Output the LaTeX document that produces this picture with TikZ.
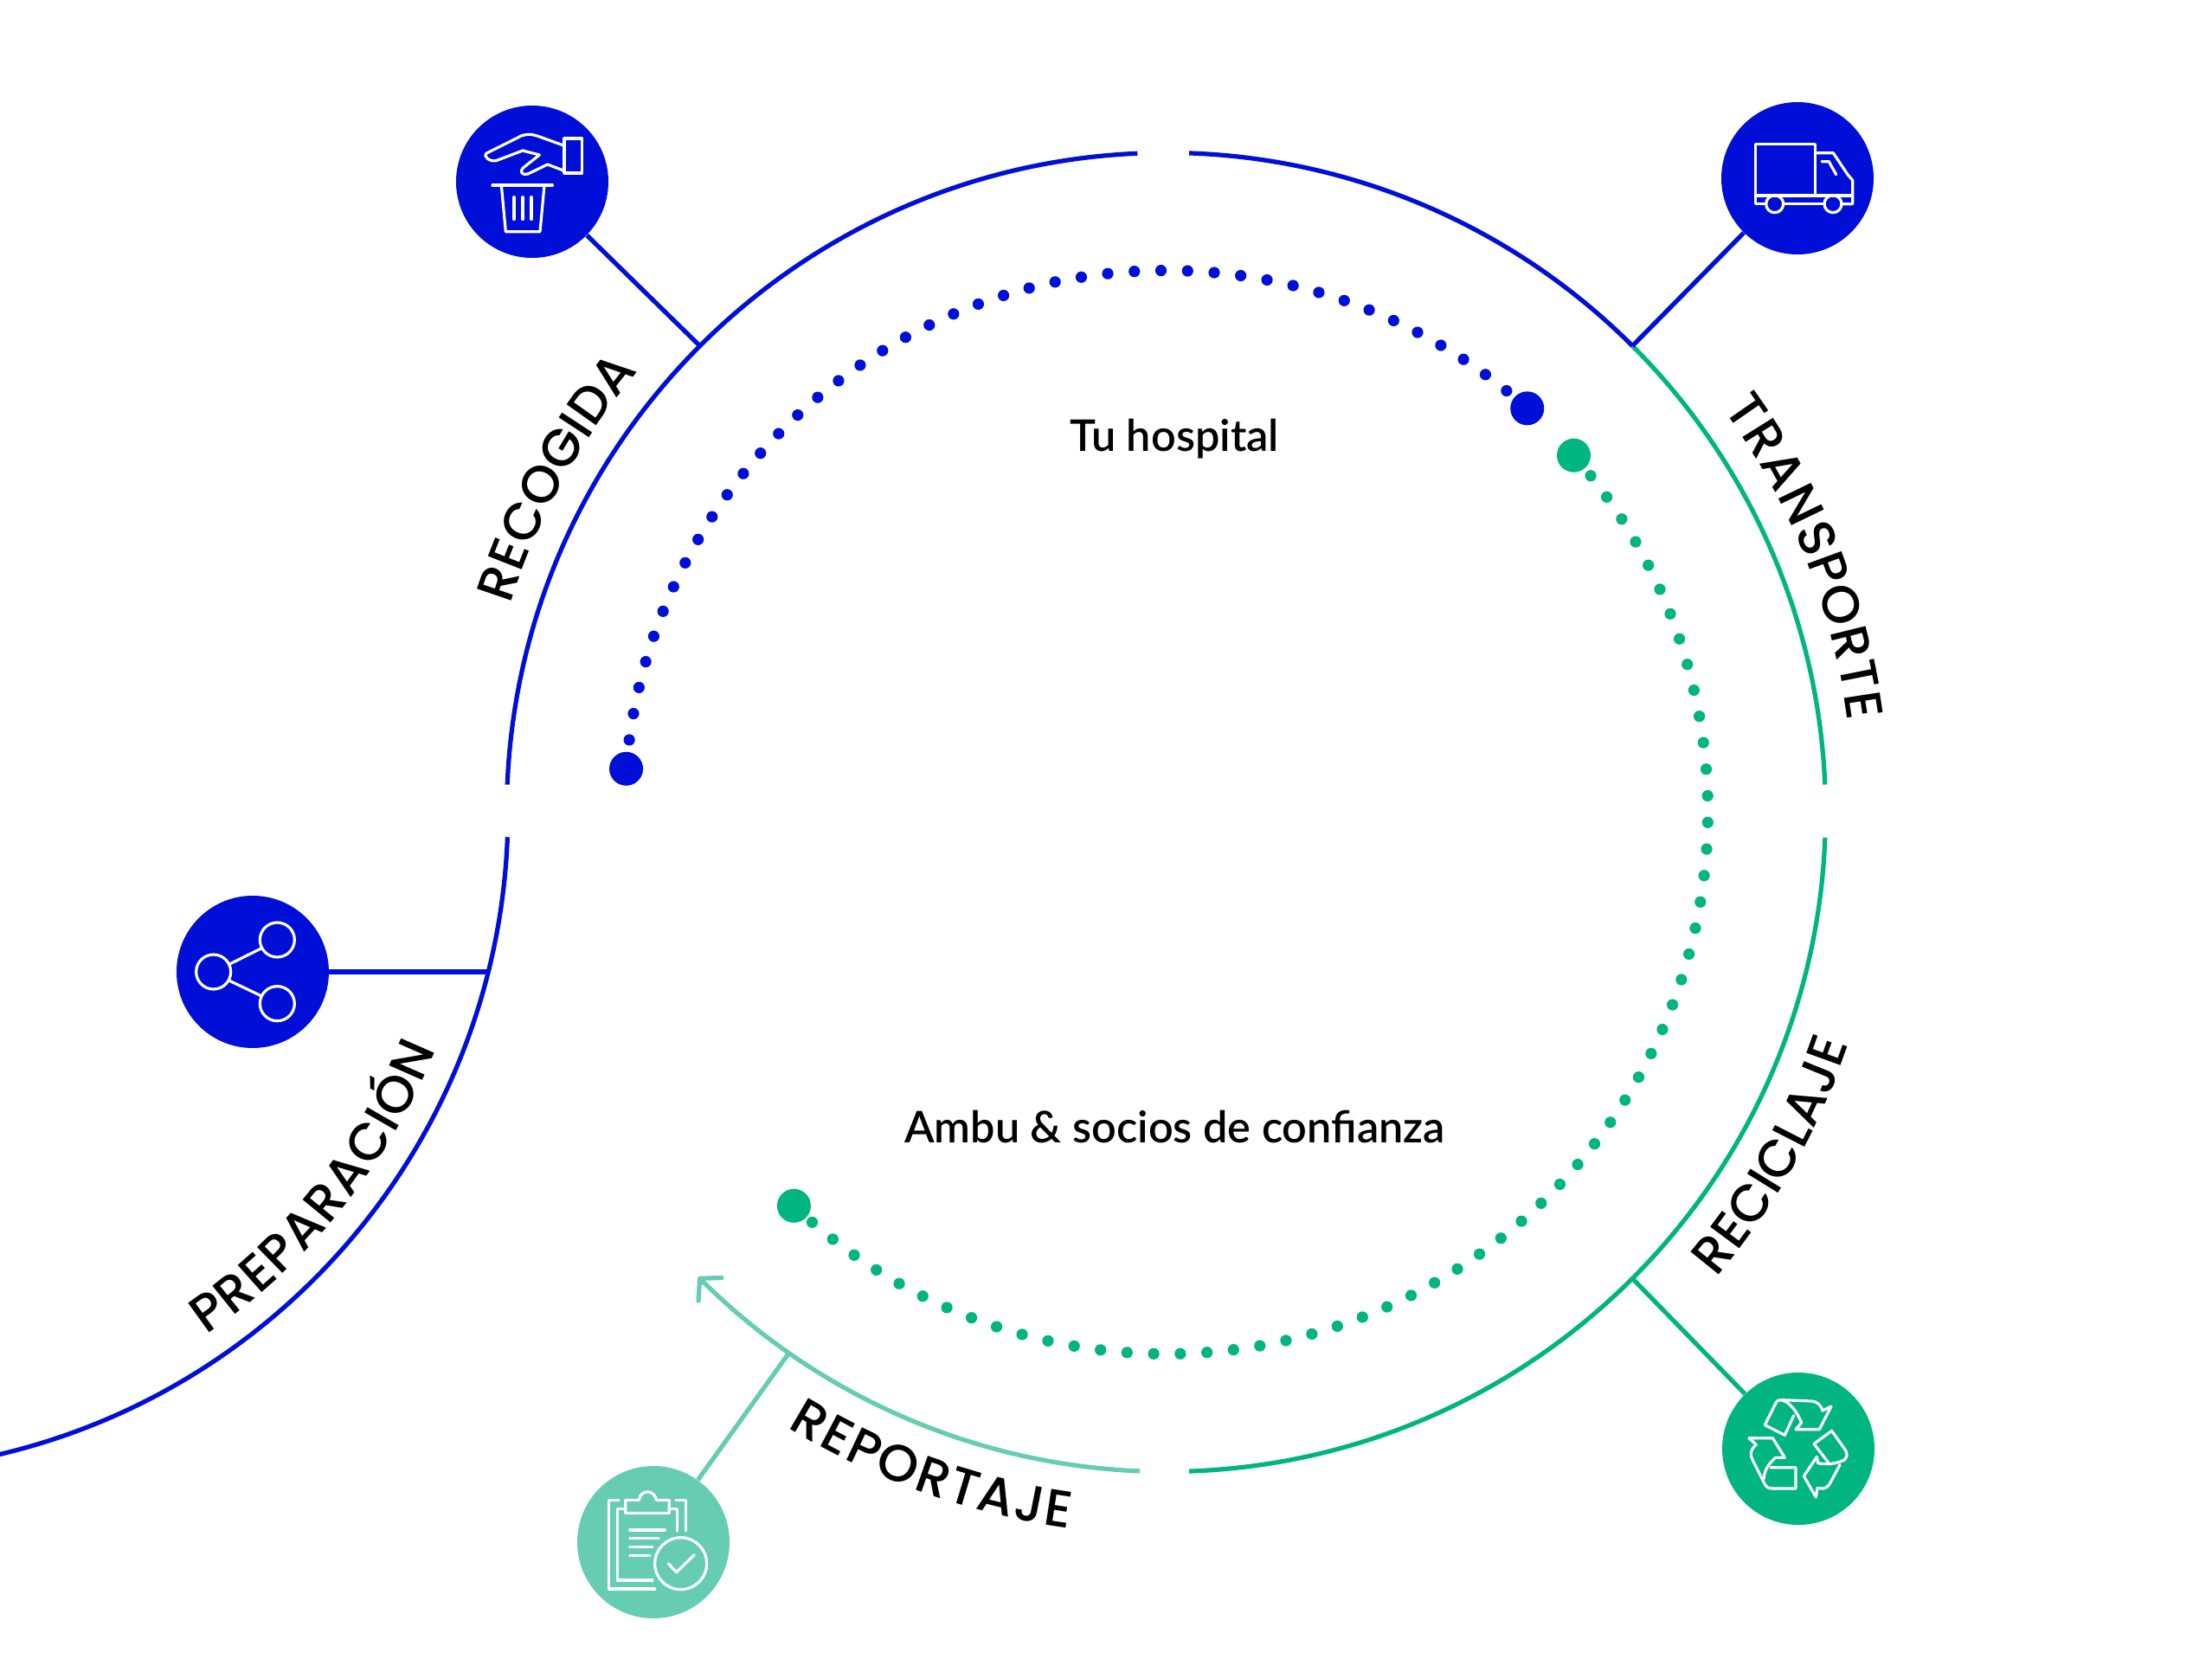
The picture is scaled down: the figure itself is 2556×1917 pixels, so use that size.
\documentclass[tikz,border=0pt]{standalone}
\usepackage{fontspec}
\usetikzlibrary{decorations.text}
\setmainfont{Lato Semibold}
\newfontfamily\lblfont{Poppins Medium}
\definecolor{ablue}{HTML}{000FD8}
\definecolor{agreen}{HTML}{00B57F}
\definecolor{alight}{HTML}{66CCB2}
\newcommand{\curvefont}{\fontsize{30}{34}\lblfont}
\tikzset{
  ring/.style={line width=2.6pt},
  ico/.style={circle,minimum size=88pt,inner sep=0pt,draw=none},
  glyph/.style={draw=white,line width=1.6pt,line join=round,line cap=round,x=0.16667pt,y=-0.16667pt},
  bigdot/.style={circle,minimum size=19.5pt,inner sep=0pt,draw=none},
  caption/.style={font=\fontsize{25.2}{29}\selectfont,anchor=base,inner sep=0pt,text=black},
  curvelabel/.style={decorate,decoration={text along path,text={|\curvefont|#1},text align={fit to path}}},
}
\begin{document}
\begin{tikzpicture}[x=0.5pt,y=0.5pt]
\useasboundingbox (0,0) rectangle (2556,-1917);
\fill[white] (0,0) rectangle (2556,-1917);
% main ring
\begin{scope}[shift={(1347.5,-938.5)}]
  \coordinate (jRec) at (135:762);
  \coordinate (jTra) at (45:762);
  \coordinate (jRei) at (-45:762);
  \coordinate (jRep) at (-124.9:762);
  \coordinate (tip) at (-135:762);
  \draw[ring,ablue] (177.6:762) arc[start angle=177.6,end angle=92.5,radius=381pt];
  \draw[ring,ablue] (88:762) arc[start angle=88,end angle=45,radius=381pt];
  \draw[ring,agreen] (45:762) arc[start angle=45,end angle=2.4,radius=381pt];
  \draw[ring,agreen] (-2.2:762) arc[start angle=-2.2,end angle=-88,radius=381pt];
  \draw[ring,alight] (-92.3:762) arc[start angle=-92.3,end angle=-135,radius=381pt];
  % dots
  \foreach \k in {-14,...,29} \fill[ablue] ({90.55+2.82*\k}:626) circle[radius=3.3pt];
  \foreach \k in {-50,...,10} \fill[agreen] ({10.2+2.82*\k}:626) circle[radius=3.3pt];
  \node[bigdot,fill=ablue] (bstart) at (175.4:626) {};
  \node[bigdot,fill=ablue] (bend) at (48.2:626) {};
  \node[bigdot,fill=agreen] (gstart) at (41.2:626) {};
  \node[bigdot,fill=agreen] (gend) at (-133.4:626) {};
  % curved labels
  \path[curvelabel={RECOGIDA}] (162.4:795) arc[start angle=162.4,end angle=140.8,radius=397.5pt];
  \path[curvelabel={TRANSPORTE}] (35.9:795) arc[start angle=35.9,end angle=7.6,radius=397.5pt];
  \path[curvelabel={RECICLAJE}] (-40.2:833) arc[start angle=-40.2,end angle=-18.8,radius=416.5pt];
  \path[curvelabel={REPORTAJE}] (-121.6:835) arc[start angle=-121.6,end angle=-97.7,radius=417.5pt];
\end{scope}
% arrowhead of the pale arc
\draw[alight,line width=2.6pt,line cap=round,line join=round] (834,-1476.5) -- (tip) -- (807,-1503);
% second ring
\begin{scope}[shift={(-176,-938)}]
  \draw[ring,ablue] (-2.2:763) arc[start angle=-2.2,end angle=-78,radius=381.5pt];
  \path[curvelabel={PREPARACIÓN}] (-55.6:733) arc[start angle=-55.6,end angle=-22,radius=366.5pt];
\end{scope}
\coordinate (jPre) at (566,-1123);
% icons
\node[ico,fill=ablue] (recogida) at (615,-210) {};
\node[ico,fill=ablue] (transporte) at (2077,-206) {};
\node[ico,fill=agreen] (reciclaje) at (2078,-1674) {};
\node[ico,fill=alight] (reportaje) at (755,-1782) {};
\node[ico,fill=ablue] (preparacion) at (292,-1123) {};
% connectors
\draw[ring,ablue] (recogida) -- (jRec);
\draw[ring,ablue] (transporte) -- (jTra);
\draw[ring,agreen] (reciclaje) -- (jRei);
\draw[ring,alight] (reportaje) -- (jRep);
\draw[ring,ablue] (preparacion) -- (jPre);
% captions
\node[caption] (hosp) at (1357,-521.5) {Tu hospital};
\node[caption] (ambu) at (1357.5,-1320) {Ambu \& socios de confianza};
% hand and bin
\begin{scope}[shift={(500,-100)},glyph]
  \draw (456,180) rectangle (518,300);
  \draw (456,205) -- (365,172) .. controls (335,162) and (315,165) .. (295,177) -- (185,232) .. controls (175,240) and (195,262) .. (220,257) -- (312,222) -- (370,237) -- (312,283) .. controls (300,298) and (312,308) .. (330,303) -- (398,270) -- (456,292);
  \draw (207,342) -- (415,342);
  \draw (238,342) -- (253,503) -- (372,503) -- (387,342);
  \draw (282,383) -- (282,460) (312,383) -- (312,460) (342,383) -- (342,460);
\end{scope}
% truck
\begin{scope}[shift={(1970,-100)},glyph]
  \draw (382,378) -- (382,200) -- (175,200) -- (175,407) -- (212,407);
  \draw (175,378) -- (510,378);
  \draw (272,407) -- (414,407);
  \draw (474,407) -- (512,407) -- (512,325) -- (495,305) -- (445,230) -- (382,230);
  \draw (405,260) -- (430,260) -- (455,305);
  \draw (242,407) circle[radius=5pt];
  \draw (444,407) circle[radius=5pt];
\end{scope}
% recycling
\begin{scope}[shift={(1970,-1570)},glyph]
  \draw (265,143) -- (370,147) .. controls (395,150) and (403,165) .. (408,180) -- (438,165) -- (397,245) -- (315,245) -- (335,222) .. controls (320,185) and (295,150) .. (265,143) .. controls (255,142) and (250,145) .. (245,155) -- (208,230) -- (277,265) -- (308,197);
  \draw (153,275) -- (235,275) -- (277,343) -- (245,343) .. controls (225,360) and (205,385) .. (205,415);
  \draw (153,275) -- (178,298) .. controls (158,315) and (155,330) .. (165,350) -- (205,430) .. controls (212,445) and (220,450) .. (235,450) -- (315,450) -- (315,377) -- (228,377);
  \draw (378,295) -- (440,250) -- (488,318) .. controls (495,335) and (492,342) .. (485,350) .. controls (455,365) and (425,368) .. (392,362) -- (388,340) -- (343,407) -- (385,480) -- (390,448) -- (410,450) .. controls (420,450) and (427,442) .. (432,435) -- (468,368);
  \draw (378,295) -- (428,360);
\end{scope}
% clipboard
\begin{scope}[shift={(650,-1680)},glyph]
  \draw (195,160) -- (160,160) -- (160,468) -- (320,468);
  \draw (393,160) -- (427,160) -- (427,267);
  \draw (218,190) -- (190,190) -- (190,438) -- (312,438);
  \draw (372,190) -- (398,190) -- (398,267);
  \draw (218,205) -- (218,160) -- (265,160) .. controls (270,122) and (320,122) .. (325,160) -- (370,160) -- (370,205) -- cycle;
  \draw (233,264) -- (355,264) (233,292) -- (333,292) (233,322) -- (312,322) (233,352) -- (303,352);
  \draw (410,380) circle[radius=15pt];
  \draw (367,380) -- (395,410) -- (457,350);
\end{scope}
% share
\begin{scope}[shift={(190,-1020)},glyph]
  \draw (391,198) circle[radius=10pt];
  \draw (170,309) circle[radius=10pt];
  \draw (391,419) circle[radius=10pt];
  \draw (226,282) -- (335,228) (226,340) -- (335,392);
\end{scope}
\end{tikzpicture}
\end{document}
